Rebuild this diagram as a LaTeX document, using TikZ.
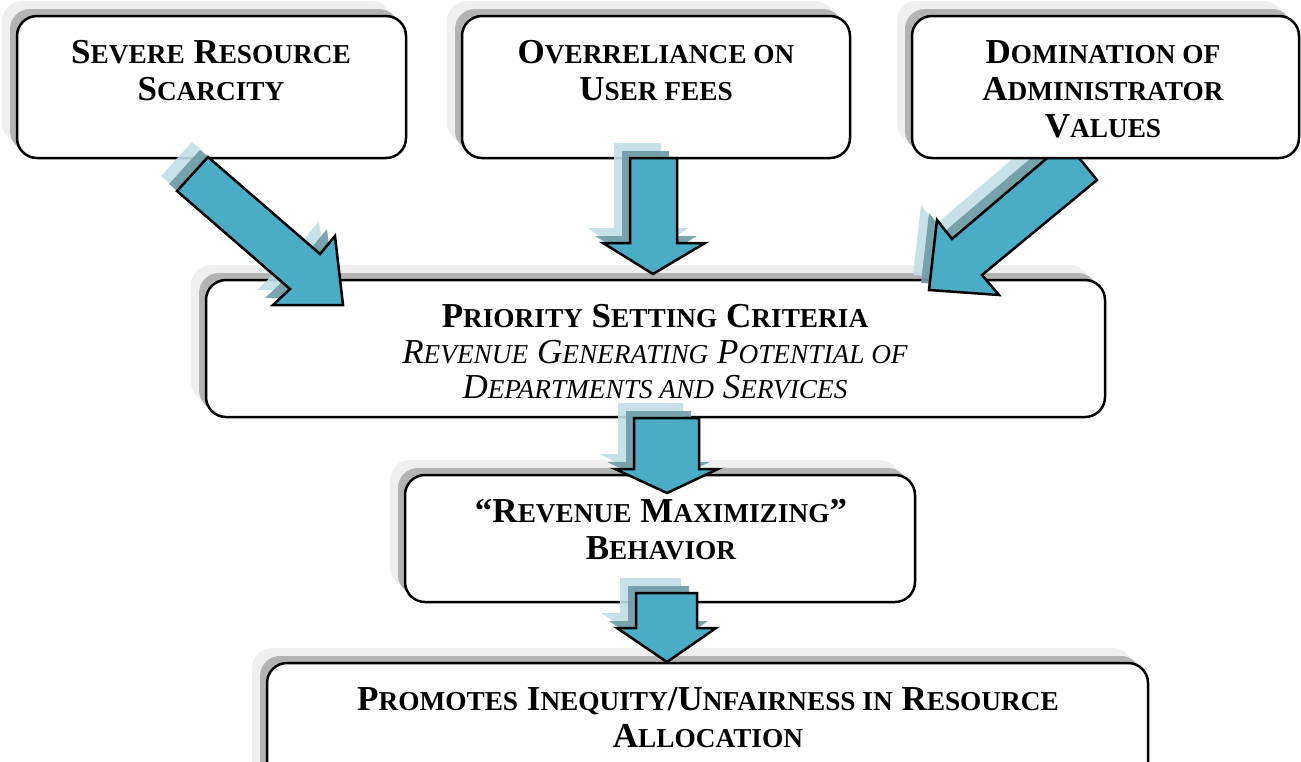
\documentclass[tikz,border=0pt]{standalone}
\usepackage{fontspec}
\setmainfont{Liberation Serif}
\usetikzlibrary{shadows}
\definecolor{arrfill}{HTML}{4BACC6}
\definecolor{ashD}{HTML}{6F9BA6}
\definecolor{ashL}{HTML}{C1DEE6}
\definecolor{bshD}{HTML}{B3B3B3}
\definecolor{bshL}{HTML}{EFEFEF}
\newcommand\sm[1]{{\fontsize{27.3}{32}\selectfont #1}}
\tikzset{
  box/.style={draw=black, line width=2.5pt, fill=white, rounded corners=20pt,
    general shadow={fill=bshL, shadow xshift=-15pt, shadow yshift=15pt},
    general shadow={fill=bshD, shadow xshift=-7pt, shadow yshift=7pt}},
  lbl/.style={anchor=base, inner sep=0pt, font=\fontsize{35}{40}\selectfont\bfseries},
  ilbl/.style={anchor=base, inner sep=0pt, font=\fontsize{35}{40}\selectfont\itshape},
  arrowbody/.style={draw=black, line width=2.5pt, fill=arrfill, line join=miter},
  arrshL/.style={fill=ashL, opacity=0.9},
  arrshD/.style={fill=ashD, opacity=0.9}
}
\newcommand\barrow[1]{%
  \fill[arrshL, shift={(-16,-15)}] #1 -- cycle;
  \fill[arrshD, shift={(-8,-7)}] #1 -- cycle;
  \draw[arrowbody] #1 -- cycle;}
\begin{document}
\begin{tikzpicture}[x=1pt, y=-1pt]
\useasboundingbox (0,0) rectangle (1301,761);
% lower boxes
\node[box, minimum width=899pt, minimum height=137pt] (b4) at (655.5,348.5) {};
\node[box, minimum width=510pt, minimum height=127pt] (b5) at (660,538.5) {};
\node[box, minimum width=881pt, minimum height=137pt] (b6) at (707.5,731.5) {};
% top boxes
\node[box, minimum width=389pt, minimum height=142pt] (b1) at (211.5,87) {};
\node[box, minimum width=388pt, minimum height=142pt] (b2) at (656,87) {};
% arrow 3 (tail hidden under box 3)
\barrow{(1066,142) -- (1097,180) -- (982,275) -- (999,295) -- (929,290) -- (937,220) -- (952,239)}
\node[box, minimum width=387pt, minimum height=142pt] (b3) at (1105.5,87) {};
% other arrows
\barrow{(208,157) -- (320,254) -- (335,236) -- (343,305) -- (273,305) -- (290,289) -- (177,191)}
\barrow{(630,158) -- (677,158) -- (677,243) -- (705,243) -- (653,274) -- (603,243) -- (630,243)}
\barrow{(634,418) -- (699,418) -- (699,469) -- (718,469) -- (667,493) -- (615,469) -- (634,469)}
\barrow{(636,593) -- (697,593) -- (697,628) -- (716,628) -- (667,662) -- (617,628) -- (636,628)}
% texts
\node[lbl] (t1a) at (211,63) {S\sm{EVERE} R\sm{ESOURCE}};
\node[lbl] (t1b) at (211,100) {S\sm{CARCITY}};
\node[lbl] (t2a) at (656,63) {O\sm{VERRELIANCE ON}};
\node[lbl] (t2b) at (656,100) {U\sm{SER FEES}};
\node[lbl] (t3a) at (1103,63) {D\sm{OMINATION OF}};
\node[lbl] (t3b) at (1103,100) {A\sm{DMINISTRATOR}};
\node[lbl] (t3c) at (1103,137) {V\sm{ALUES}};
\node[lbl] (t4a) at (655,327) {P\sm{RIORITY} S\sm{ETTING} C\sm{RITERIA}};
\node[ilbl] (t4b) at (655,363) {R\sm{EVENUE} G\sm{ENERATING} P\sm{OTENTIAL OF}};
\node[ilbl] (t4c) at (655,398) {D\sm{EPARTMENTS AND} S\sm{ERVICES}};
\node[lbl] (t5a) at (661,522) {“R\sm{EVENUE} M\sm{AXIMIZING}”};
\node[lbl] (t5b) at (661,559) {B\sm{EHAVIOR}};
\node[lbl] (t6a) at (708,710) {P\sm{ROMOTES} I\sm{NEQUITY}/U\sm{NFAIRNESS IN} R\sm{ESOURCE}};
\node[lbl] (t6b) at (708,747) {A\sm{LLOCATION}};
\end{tikzpicture}
\end{document}
